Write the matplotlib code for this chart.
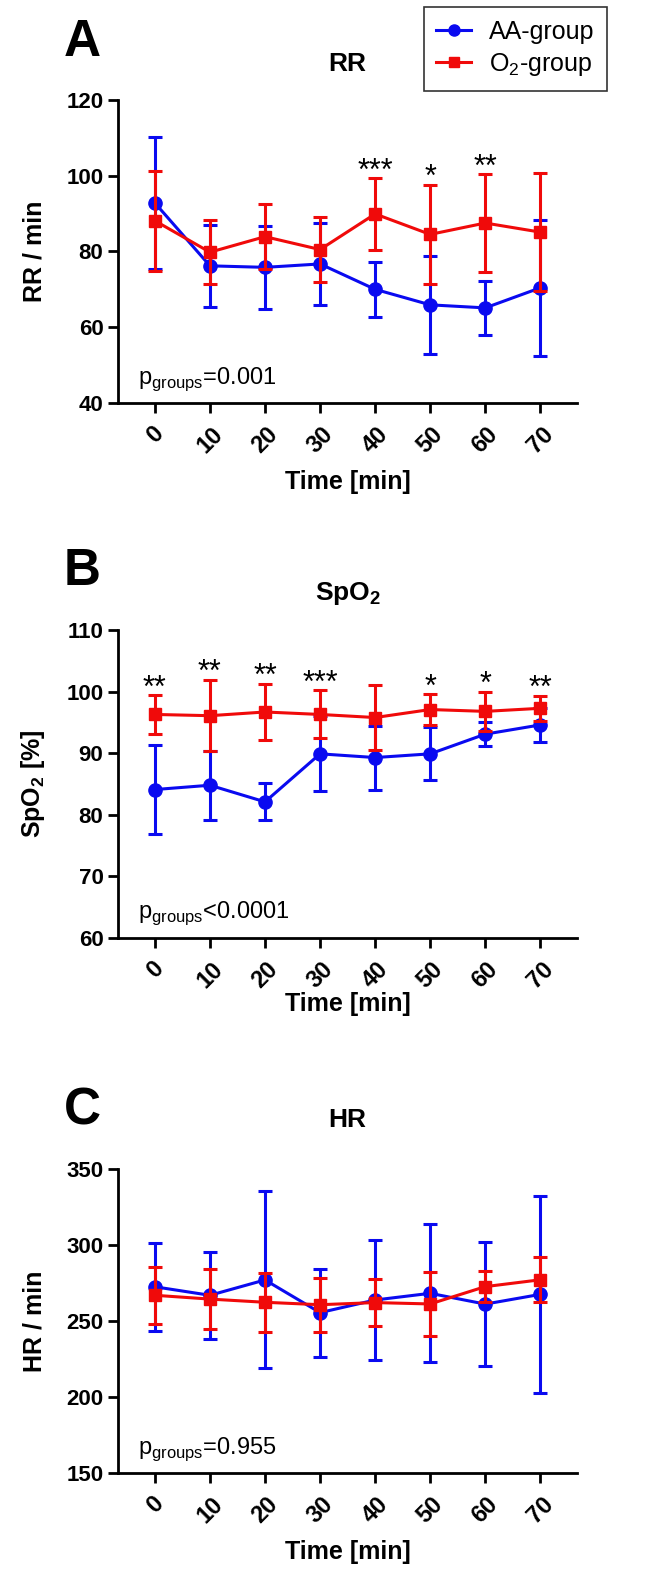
import numpy as np
import matplotlib
matplotlib.use("Agg")
import matplotlib.pyplot as plt
from matplotlib.lines import Line2D

plt.rcParams['font.family'] = ['Liberation Sans', 'DejaVu Sans']
plt.rcParams['mathtext.fontset'] = 'custom'
plt.rcParams['mathtext.rm'] = 'Liberation Sans'
plt.rcParams['mathtext.bf'] = 'Liberation Sans:bold'

time = [0, 10, 20, 30, 40, 50, 60, 70]

# RR (breaths / min), mean and SD
rr_aa = [92.8, 76.2, 75.8, 76.7, 70.0, 65.9, 65.1, 70.4]
rr_aa_sd = [17.4, 10.8, 10.9, 10.8, 7.3, 13.0, 7.2, 18.0]
rr_o2 = [88.1, 79.8, 83.9, 80.5, 89.9, 84.5, 87.5, 85.1]
rr_o2_sd = [13.2, 8.4, 8.5, 8.6, 9.4, 13.1, 12.9, 15.6]
rr_stars = ['', '', '', '', '***', '*', '**', '']

# SpO2 (%)
spo2_aa = [84.1, 84.8, 82.1, 89.9, 89.3, 89.9, 93.1, 94.6]
spo2_aa_sd = [7.2, 5.6, 3.0, 6.1, 5.2, 4.3, 2.0, 2.8]
spo2_o2 = [96.3, 96.1, 96.7, 96.3, 95.8, 97.1, 96.8, 97.3]
spo2_o2_sd = [3.1, 5.8, 4.6, 3.9, 5.3, 2.5, 3.2, 2.0]
spo2_stars = ['**', '**', '**', '***', '', '*', '*', '**']

# HR (beats / min)
hr_aa = [272.5, 266.9, 277.0, 255.5, 263.8, 268.2, 261.1, 267.5]
hr_aa_sd = [29.0, 28.5, 58.2, 28.9, 39.8, 45.3, 40.8, 64.7]
hr_o2 = [266.9, 264.4, 262.3, 260.7, 262.1, 261.2, 272.6, 277.1]
hr_o2_sd = [18.6, 19.5, 19.5, 17.7, 15.4, 21.3, 10.3, 14.7]
hr_stars = ['', '', '', '', '', '', '', '']

BLUE = '#0a0af0'
RED = '#f00a0a'

fig = plt.figure(figsize=(6.5, 15.71), dpi=100)


def panel(rect, letter, title, tpad, xpad, ylabel, ylim, yticks, aa, aa_sd, o2, o2_sd, stars, ptext):
    ax = fig.add_axes(rect)
    ax.errorbar(time, aa, yerr=aa_sd, color=BLUE, marker='o', ms=9.5, lw=2.2,
                elinewidth=2.2, capsize=5, capthick=2.2, zorder=3)
    ax.errorbar(time, o2, yerr=o2_sd, color=RED, marker='s', ms=8.5, lw=2.2,
                elinewidth=2.2, capsize=5, capthick=2.2, zorder=4)
    for t, m, s, st in zip(time, o2, o2_sd, stars):
        if st:
            ax.annotate(st, (t, m + s), xytext=(0, -6), textcoords='offset points',
                        ha='center', va='bottom', fontsize=22, color='black')
    ax.set_xlim(-6.7, 76.7)
    ax.set_ylim(*ylim)
    ax.set_yticks(yticks)
    ax.set_xticks(time)
    ax.set_xticklabels([str(t) for t in time], rotation=45, ha='center')
    for s in ['top', 'right']:
        ax.spines[s].set_visible(False)
    for s in ['left', 'bottom']:
        ax.spines[s].set_linewidth(2)
    ax.tick_params(width=2, length=7, labelsize=16)
    ax.tick_params(axis='x', labelsize=17, pad=7)
    for lab in ax.get_xticklabels() + ax.get_yticklabels():
        lab.set_fontweight('bold')
    ax.set_xlabel('Time [min]', fontsize=18, fontweight='bold', labelpad=xpad)
    ax.set_ylabel(ylabel, fontsize=18, fontweight='bold', labelpad=14)
    ax.set_title(title, fontsize=19, fontweight='bold', pad=tpad)
    ax.text(0.044, 0.08, ptext, transform=ax.transAxes, fontsize=17, va='center')
    ax.text(-0.078, 1.19, letter, transform=ax.transAxes, fontsize=37,
            fontweight='bold', va='center', ha='center')
    return ax


panel([0.1815, 0.7435, 0.7065, 0.1929], 'A', 'RR', 21, 9, 'RR / min', (40, 120),
      [40, 60, 80, 100, 120], rr_aa, rr_aa_sd, rr_o2, rr_o2_sd, rr_stars,
      r'p$_{\mathrm{groups}}$=0.001')
panel([0.1815, 0.4030, 0.7065, 0.1959], 'B', r'SpO$_\mathbf{2}$', 22, 0, r'SpO$_\mathbf{2}$ [%]',
      (60, 110), [60, 70, 80, 90, 100, 110], spo2_aa, spo2_aa_sd, spo2_o2, spo2_o2_sd,
      spo2_stars, r'p$_{\mathrm{groups}}$<0.0001')
panel([0.1815, 0.0624, 0.7065, 0.1935], 'C', 'HR', 30, 9, 'HR / min', (150, 350),
      [150, 200, 250, 300, 350], hr_aa, hr_aa_sd, hr_o2, hr_o2_sd, hr_stars,
      r'p$_{\mathrm{groups}}$=0.955')

handles = [Line2D([], [], color=BLUE, marker='o', ms=8, lw=2.2),
           Line2D([], [], color=RED, marker='s', ms=7, lw=2.2)]
leg = fig.legend(handles, ['AA-group', r'O$_2$-group'], loc='upper left',
                 bbox_to_anchor=(0.652, 0.9955), fontsize=18, frameon=True,
                 fancybox=False, edgecolor='black', handlelength=1.4,
                 handletextpad=0.7, borderpad=0.5, labelspacing=0.3,
                 borderaxespad=0)
leg.get_frame().set_linewidth(1.2)

fig.savefig('out.png', dpi=100)
